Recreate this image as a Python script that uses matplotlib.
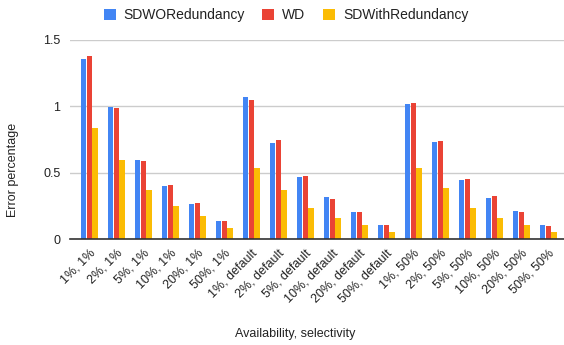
import matplotlib
matplotlib.use('Agg')
import matplotlib.pyplot as plt
from matplotlib.patches import Patch
import numpy as np

plt.rcParams['font.family'] = ['Liberation Sans', 'DejaVu Sans']

categories = ['1%, 1%', '2%, 1%', '5%, 1%', '10%, 1%', '20%, 1%', '50%, 1%',
              '1%, default', '2%, default', '5%, default', '10%, default', '20%, default', '50%, default',
              '1%, 50%', '2%, 50%', '5%, 50%', '10%, 50%', '20%, 50%', '50%, 50%']
sdwo = [1.355, 0.995, 0.593, 0.400, 0.264, 0.133,
        1.071, 0.724, 0.468, 0.317, 0.204, 0.106,
        1.018, 0.731, 0.445, 0.309, 0.211, 0.106]
wd = [1.380, 0.985, 0.586, 0.407, 0.269, 0.133,
      1.048, 0.747, 0.475, 0.302, 0.204, 0.106,
      1.026, 0.739, 0.452, 0.324, 0.204, 0.098]
sdwith = [0.835, 0.593, 0.367, 0.249, 0.171, 0.081,
          0.533, 0.370, 0.234, 0.158, 0.106, 0.050,
          0.533, 0.385, 0.234, 0.158, 0.106, 0.050]
series = [('SDWORedundancy', sdwo, '#4285F4'),
          ('WD', wd, '#EA4335'),
          ('SDWithRedundancy', sdwith, '#FBBC04')]

W, H = 564, 345
fig = plt.figure(figsize=(W / 100, H / 100), dpi=100)
ax = fig.add_axes([70 / W, 106 / H, (564 - 70) / W, (239 - 40) / H])

x = np.arange(len(categories))
bw = 0.2
for i, (name, vals, col) in enumerate(series):
    ax.bar(x + (i - 1) * 0.215, vals, width=bw, color=col, label=name, zorder=3)

ax.set_ylim(0, 1.5)
ax.set_xlim(-0.715, 17.58)
ax.set_yticks([0, 0.5, 1, 1.5])
ax.set_yticklabels(['0', '0.5', '1', '1.5'])
ax.yaxis.grid(True, color='#cccccc', linewidth=1, zorder=0)
ax.tick_params(axis='y', length=0, pad=7, labelsize=9, labelcolor='#222222')
ax.tick_params(axis='x', length=0, pad=6, labelsize=9, labelcolor='#222222')
ax.set_xticks(x)
ax.set_xticklabels(categories, rotation=45, ha='right', rotation_mode='anchor')
for s in ['top', 'right', 'left']:
    ax.spines[s].set_visible(False)
ax.spines['bottom'].set_color('#333333')
ax.spines['bottom'].set_linewidth(1.2)
ax.spines['bottom'].set_zorder(4)

fig.text(13 / W, 1 - 170 / H, 'Error percentage', rotation=90, ha='center', va='center',
         fontsize=9, color='#222222')
fig.text(295.5 / W, 1 - 334 / H, 'Availability, selectivity', ha='center', va='center',
         fontsize=9, color='#222222')

handles = [Patch(facecolor=c, edgecolor='none', label=n) for n, _, c in series]
fig.legend(handles=handles, loc='center', bbox_to_anchor=(286 / W, 1 - 15 / H), ncol=3,
           frameon=False, fontsize=10, handlelength=0.86, handleheight=0.86,
           handletextpad=0.58, columnspacing=1.26, labelcolor='#222222',
           borderpad=0, borderaxespad=0)

fig.savefig('out.png', dpi=100)
